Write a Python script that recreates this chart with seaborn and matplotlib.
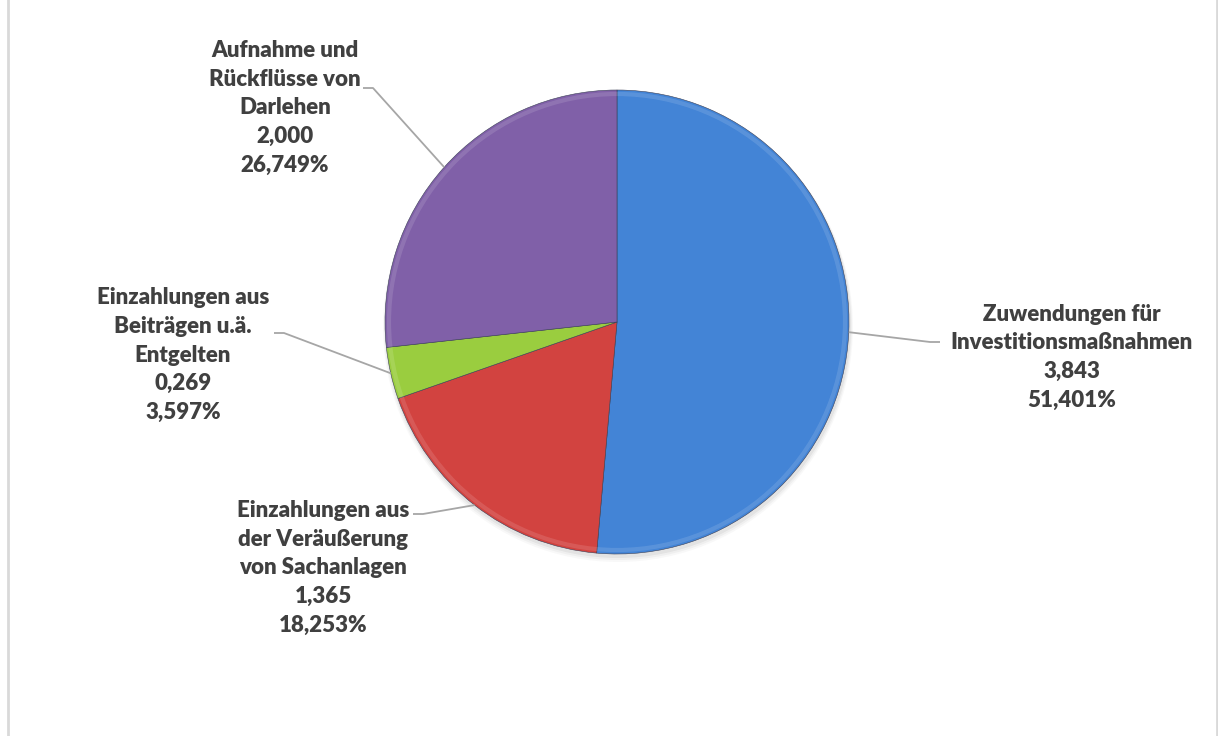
import numpy as np
import matplotlib
matplotlib.use("Agg")
import matplotlib.pyplot as plt
import seaborn as sns
from matplotlib.patches import Circle, Rectangle

# data (clockwise from 12 o'clock)
categories = [
    "Zuwendungen für\nInvestitionsmaßnahmen",
    "Einzahlungen aus\nder Veräußerung\nvon Sachanlagen",
    "Einzahlungen aus\nBeiträgen u.ä.\nEntgelten",
    "Aufnahme und\nRückflüsse von\nDarlehen",
]
values = [3.843, 1.365, 0.269, 2.000]
percent_labels = ["51,401%", "18,253%", "3,597%", "26,749%"]
value_labels = ["3,843", "1,365", "0,269", "2,000"]
colors = ["#4384d6", "#d24340", "#9acd3f", "#8060a8"]

# layout in pixel coords (y from top)
W, H = 1218, 736
center = (617, 322)
radius = 232
label_pos = [(1072, 357), (323, 568), (183, 355), (285, 108)]
leader_end = [(940, 342), (413, 514), (274, 333), (363, 88)]
leader_dir = [-1, 1, 1, 1]

sns.set_theme(style="white")
plt.rcParams["font.family"] = ["Lato", "DejaVu Sans"]

fig = plt.figure(figsize=(W / 100, H / 100), dpi=100)
ax = fig.add_axes([0, 0, 1, 1])

cx, cy = center[0], H - center[1]

# soft shadow under the pie
for k, a in enumerate([0.10, 0.07, 0.05]):
    ax.add_patch(Circle((cx + 1, cy - 3 - k), radius + 1 + k, color="#808080", alpha=a, lw=0, zorder=1))

wedges, _ = ax.pie(values, colors=colors, startangle=90, counterclock=False,
                   center=(cx, cy), radius=radius, frame=True,
                   wedgeprops=dict(edgecolor="#3a3f55", linewidth=0.4))
for w in wedges:
    w.set_zorder(2)
ax.set_xlim(0, W)
ax.set_ylim(0, H)
ax.set_aspect("equal")
ax.axis("off")

# light rim for a slight bevel look
ax.add_patch(Circle((cx, cy), radius - 4, fill=False, ec="white", lw=3, alpha=0.12, zorder=3))

total = sum(values)
cum = np.cumsum([0] + values)
for i, (cat, val, pct) in enumerate(zip(categories, value_labels, percent_labels)):
    mid = (cum[i] + cum[i + 1]) / 2 / total * 360
    theta = np.deg2rad(90 - mid)
    ex, ey = cx + radius * np.cos(theta), cy + radius * np.sin(theta)
    lx, ly = leader_end[i][0], H - leader_end[i][1]
    kx = lx + 10 * leader_dir[i]
    ax.plot([ex, kx, lx], [ey, ly, ly], color="#a6a6a6", lw=1.3, zorder=4, solid_capstyle="butt")
    tx, ty = label_pos[i]
    ax.text(tx, H - ty, f"{cat}\n{val}\n{pct}", ha="center", va="center",
            fontsize=16, fontweight="heavy", color="#404040", linespacing=1.45, zorder=5)

# chart border
ax.add_patch(Rectangle((8, -10), 1209, H + 20, fill=False, ec="#d9d9d9", lw=2, zorder=6))

fig.savefig("out.png", dpi=100)
